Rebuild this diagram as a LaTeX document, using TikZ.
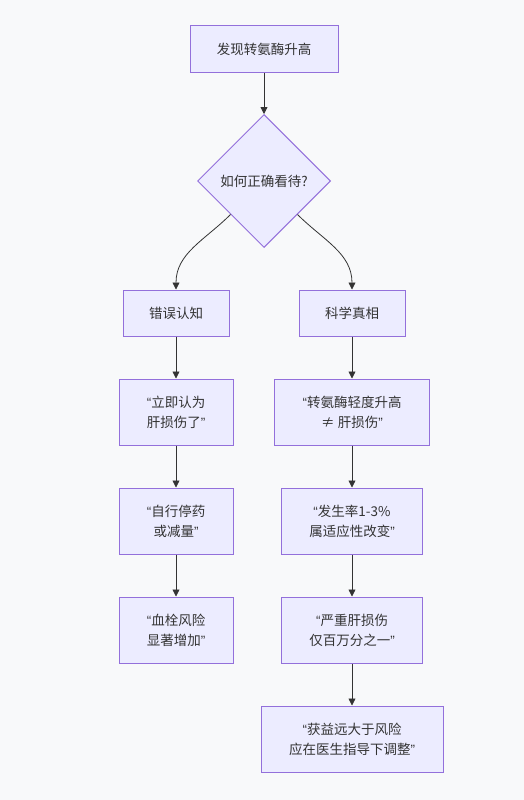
\documentclass[tikz,border=0pt]{standalone}
\usepackage{fontspec}
\setmainfont{Noto Sans CJK SC}
\newfontfamily\qfont{Liberation Sans}
\usetikzlibrary{shapes.geometric,arrows.meta}
\definecolor{boxfill}{HTML}{ECECFF}
\definecolor{boxline}{HTML}{9370DB}
\definecolor{edgeline}{HTML}{333333}
\definecolor{bgcol}{HTML}{F8F9FA}
\newcommand{\oq}{{\qfont “}}
\newcommand{\cq}{{\qfont ”}}

\begin{document}
\begin{tikzpicture}[x=1pt,y=-1pt,
    box/.style={rectangle,draw=boxline,fill=boxfill,line width=1pt,minimum height=46pt,
                align=center,text=edgeline,font=\fontsize{13.5}{20}\selectfont},
    tallbox/.style={box,minimum height=66pt},
    choice/.style={diamond,draw=boxline,fill=boxfill,line width=1pt,aspect=1,
                   minimum width=133pt,minimum height=133pt,inner sep=0pt,
                   text=edgeline,font=\fontsize{13.5}{20}\selectfont},
    link/.style={draw=edgeline,line width=0.8pt,-{Triangle[length=7pt,width=7pt]}}]
    \fill[bgcol] (0,0) rectangle (524,800);
    \useasboundingbox (0,0) rectangle (524,800);
    \begin{scope}
        \node[box,minimum width=148pt] (A) at (264,49) {发现转氨酶升高};
        \node[choice] (B) at (264,181) {如何正确看待?};
        \node[box,minimum width=106pt] (C) at (176,313) {错误认知};
        \node[box,minimum width=106pt] (D) at (352,313) {科学真相};
        \node[tallbox,minimum width=114pt] (E) at (176,412) {\oq 立即认为\\肝损伤了\cq};
        \node[tallbox,minimum width=114pt] (F) at (176,521) {\oq 自行停药\\或减量\cq};
        \node[tallbox,minimum width=114pt] (G) at (176,630) {\oq 血栓风险\\显著增加\cq};
        \node[tallbox,minimum width=155pt] (H) at (352,412) {\oq 转氨酶轻度升高\\≠ 肝损伤\cq};
        \node[tallbox,minimum width=141pt] (I) at (352,521) {\oq 发生率1-3\%\\属适应性改变\cq};
        \node[tallbox,minimum width=141pt] (J) at (352,630) {\oq 严重肝损伤\\仅百万分之一\cq};
        \node[tallbox,minimum width=182pt] (K) at (352,739) {\oq 获益远大于风险\\应在医生指导下调整\cq};
    \end{scope}
    \begin{scope}
        \draw[link] (A) -- (B);
        \draw[link] (B.south west) to[out=-135,in=90] (C.north);
        \draw[link] (B.south east) to[out=-45,in=90] (D.north);
        \draw[link] (C) -- (E);
        \draw[link] (E) -- (F);
        \draw[link] (F) -- (G);
        \draw[link] (D) -- (H);
        \draw[link] (H) -- (I);
        \draw[link] (I) -- (J);
        \draw[link] (J) -- (K);
    \end{scope}
\end{tikzpicture}
\end{document}
